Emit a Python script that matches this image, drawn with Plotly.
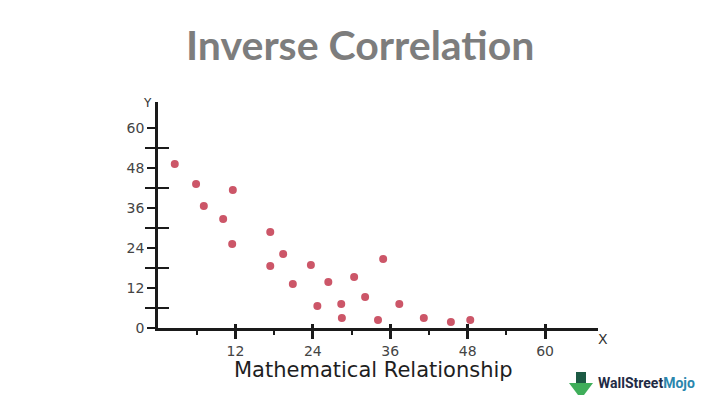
import plotly.graph_objects as go

# Data
x_vals = [2.6, 5.9, 7.1, 10.1, 11.6, 11.5, 17.4, 17.4, 19.4, 20.9, 23.7, 24.7,
          26.4, 28.4, 28.5, 30.4, 32.1, 34.9, 34.1, 37.4, 41.2, 45.4, 48.4]
y_vals = [49.2, 43.2, 36.6, 32.7, 41.4, 25.2, 28.8, 18.6, 22.2, 13.2, 18.9, 6.6,
          13.8, 7.2, 3.0, 15.3, 9.3, 20.7, 2.4, 7.2, 3.0, 1.8, 2.4]

x_major = [12, 24, 36, 48, 60]
x_minor = [6, 18, 30, 42, 54]
y_major = [0, 12, 24, 36, 48, 60]
y_minor = [6, 18, 30, 42, 54]

title_text = "Inverse Correlation"
x_title = "Mathematical Relationship"

tick_font = dict(family="DejaVu Sans", size=14, color="#444444")
axis_col = "#1a1a1a"

fig = go.Figure()
fig.add_trace(go.Scatter(
    x=x_vals, y=y_vals, mode="markers",
    marker=dict(symbol="circle", size=8, color="#cc5668",
                line=dict(width=0)),
    hoverinfo="skip", showlegend=False))
# invisible trace to activate overlay axes
fig.add_trace(go.Scatter(x=[None], y=[None], xaxis="x2", yaxis="y2",
                         showlegend=False, hoverinfo="skip"))

fig.update_layout(
    width=712, height=396,
    margin=dict(l=150, r=122, t=94, b=76),
    paper_bgcolor="white", plot_bgcolor="white",
    xaxis=dict(range=[0, 68.2], showgrid=False, zeroline=False,
               showline=True, linecolor=axis_col, linewidth=2.5,
               tickmode="array", tickvals=x_major,
               ticktext=[str(v) for v in x_major],
               ticks="outside", ticklen=8, tickwidth=2.5, tickcolor=axis_col,
               tickfont=tick_font,
               minor=dict(tickmode="array", tickvals=x_minor, ticks="outside",
                          ticklen=4, tickwidth=2, tickcolor=axis_col)),
    yaxis=dict(range=[0, 67.8], showgrid=False, zeroline=False,
               showline=True, linecolor=axis_col, linewidth=2.5,
               tickmode="array", tickvals=y_major,
               ticktext=[str(v) for v in y_major],
               ticks="outside", ticklen=8, tickwidth=2, tickcolor=axis_col,
               tickfont=tick_font,
               minor=dict(tickmode="array", tickvals=y_minor, ticks="outside",
                          ticklen=10, tickwidth=2, tickcolor=axis_col)),
    xaxis2=dict(overlaying="x", anchor="y", range=[0, 68.2], showgrid=False,
                zeroline=False, showline=False, tickmode="array",
                tickvals=x_major, showticklabels=False, ticks="inside",
                ticklen=4, tickwidth=2.5, tickcolor=axis_col, side="bottom"),
    yaxis2=dict(overlaying="y", anchor="x", range=[0, 67.8], showgrid=False,
                zeroline=False, showline=False, tickmode="array",
                tickvals=y_minor, showticklabels=False, ticks="inside",
                ticklen=11, tickwidth=2, tickcolor=axis_col, side="left"),
)

# Coordinates below are given in page pixels and converted to paper fractions
L, R, T, B = 158, 598, 102, 328


def px(x):
    return (x - L) / (R - L)


def py(y):
    return (B - y) / (B - T)


fig.add_annotation(text="<b>" + title_text + "</b>", xref="paper", yref="paper",
                   x=px(360), y=py(45), xanchor="center",
                   yanchor="middle", showarrow=False,
                   font=dict(family="Lato", size=41, color="#7d7d7d"))
fig.add_annotation(text="Y", xref="paper", yref="paper",
                   x=px(147), y=py(103), xanchor="center",
                   yanchor="middle", showarrow=False,
                   font=dict(family="DejaVu Sans", size=12, color="#333"))
fig.add_annotation(text="X", xref="paper", yref="paper",
                   x=px(603), y=py(339), xanchor="center",
                   yanchor="middle", showarrow=False,
                   font=dict(family="DejaVu Sans", size=14, color="#333"))
fig.add_annotation(text=x_title, xref="paper", yref="paper",
                   x=px(373), y=py(370), xanchor="center",
                   yanchor="middle", showarrow=False,
                   font=dict(family="DejaVu Sans", size=21, color="#1e1e1e"))
fig.add_annotation(
    text="<b><span style='color:#1f2b45'>WallStreet</span>"
         "<span style='color:#2a86ad'>Mojo</span></b>",
    xref="paper", yref="paper", x=px(596), y=py(383),
    xanchor="left", yanchor="middle", showarrow=False,
    font=dict(family="Roboto", size=14))

# small decorative logo icon
fig.add_shape(type="rect", xref="paper", yref="paper",
              x0=px(576), x1=px(586), y0=py(384), y1=py(372),
              fillcolor="#1c5a44", line=dict(width=0))
fig.add_shape(type="path", xref="paper", yref="paper",
              path="M {a},{b} L {c},{b} L {d},{e} L {f},{e} Z".format(
                  a=px(569), b=py(383), c=px(593), d=px(584),
                  e=py(395), f=px(578)),
              fillcolor="#3fae5a", line=dict(width=0))

fig.write_html("out.html")
